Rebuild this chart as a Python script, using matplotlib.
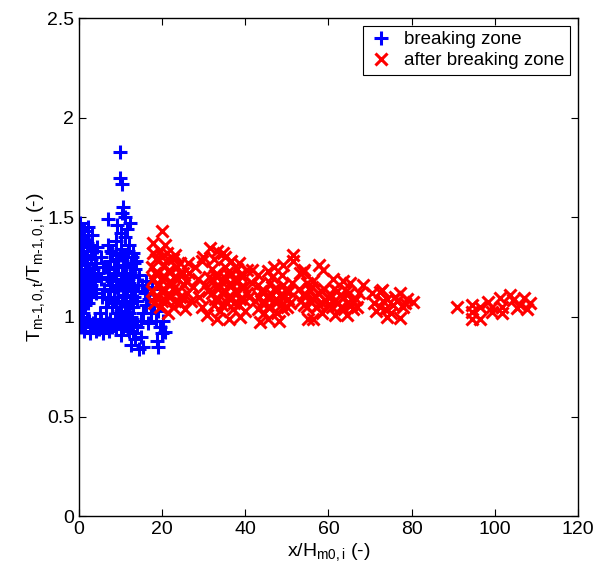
import matplotlib
matplotlib.use("Agg")
import matplotlib.pyplot as plt

plt.rcParams.update({"font.family": "Liberation Sans", "font.size": 14,
    "mathtext.fontset": "custom", "mathtext.rm": "Liberation Sans",
    "mathtext.it": "Liberation Sans", "axes.linewidth": 1.0})

# breaking zone (blue +)
blue_x = [0.2, 0.4, 0.3, 0.5, 0.2, 0.6, 0.3, 0.4, 0.2, 0.5, 0.3, 0.6, 0.2, 0.4, 0.5, 0.3, 0.2, 0.4,
          1.2, 2.2, 3.1, 1.6, 2.7, 3.6, 1.0, 2.0, 3.0, 4.0, 1.4, 2.4, 3.4, 1.1, 2.0, 3.0, 1.6, 2.6,
          3.8, 1.3, 2.2, 3.3, 4.3, 4.6,
          0.9, 1.9, 2.9, 3.9, 0.9, 1.8, 2.8, 3.7, 0.8, 1.7, 2.5, 3.5, 1.0, 2.0, 3.0, 1.4, 0.9, 4.1,
          5.2, 5.8, 5.4, 6.1, 5.6, 6.4, 5.0,
          0.8, 1.5, 2.3, 3.0, 3.8, 4.5, 5.3, 6.0, 6.8, 7.5, 8.3, 9.0, 9.8, 10.5, 11.3, 12.0, 1.2,
          2.7, 4.2, 5.7, 7.1, 8.7, 10.0, 13.0, 12.6,
          0.5, 1.9, 3.4, 4.9, 6.4, 7.9, 9.4, 10.9, 11.7, 12.4,
          7.0, 8.0, 9.0, 10.0, 11.0, 12.0, 13.0, 7.5, 8.5, 9.5, 10.5, 11.5, 12.5, 13.5,
          7.0, 8.0, 9.0, 10.0, 11.0, 12.0, 13.0, 7.5, 8.5, 9.5, 10.5, 11.5, 12.5, 13.5,
          8.0, 9.0, 10.0, 11.0, 12.0, 13.0, 14.0, 6.6, 14.2,
          7.8, 8.8, 9.8, 10.8, 11.8, 12.8, 7.3, 8.3, 9.3, 10.3, 11.3, 12.3, 13.3, 7.8,
          8.8, 9.8, 10.8, 11.8, 12.8, 8.3, 9.3, 10.3, 11.3, 12.3, 13.3, 9.5, 11.5, 7.0,
          7.0, 9.2, 10.3, 10.7, 11.1, 11.6, 10.0, 12.3, 9.9, 9.9, 10.3,
          12.5, 13.5, 14.5, 13.0, 14.0, 15.0, 14.8, 15.5, 16.2, 15.8, 16.8, 17.5, 17.2, 16.5,
          18.0, 18.5, 18.7, 19.1, 19.5, 19.9, 20.3, 19.0, 15.2, 14.5, 16.0, 13.8, 12.8, 15.3,
          20.7, 16.3]
blue_y = [1.47, 1.44, 1.41, 1.38, 1.35, 1.32, 1.29, 1.26, 1.23, 1.20, 1.17, 1.14, 1.11, 1.08, 1.05, 1.00, 0.97, 0.95,
          1.43, 1.45, 1.41, 1.38, 1.36, 1.33, 1.33, 1.31, 1.29, 1.27, 1.27, 1.24, 1.22, 1.21, 1.18, 1.16, 1.14, 1.12,
          1.18, 1.10, 1.07, 1.24, 1.35, 1.22,
          1.40, 1.37, 1.35, 1.30, 1.30, 1.27, 1.22, 1.20, 1.19, 1.20, 1.17, 1.14, 1.14, 1.12, 1.10, 1.06, 1.02, 1.12,
          1.30, 1.25, 1.19, 1.14, 1.10, 1.05, 1.02,
          0.99, 0.96, 0.98, 0.95, 0.99, 0.96, 0.98, 0.95, 0.97, 0.99, 0.96, 0.94, 0.98, 0.95, 0.97, 0.93, 0.93,
          0.92, 0.93, 0.92, 0.93, 0.99, 0.91, 0.96, 1.00,
          0.96, 0.99, 0.97, 0.94, 0.99, 0.95, 0.97, 0.99, 0.95, 0.97,
          1.36, 1.32, 1.38, 1.34, 1.40, 1.36, 1.32, 1.28, 1.25, 1.29, 1.26, 1.30, 1.27, 1.24,
          1.20, 1.18, 1.22, 1.19, 1.21, 1.17, 1.20, 1.13, 1.10, 1.14, 1.11, 1.14, 1.10, 1.13,
          1.05, 1.07, 1.03, 1.06, 1.02, 1.05, 1.08, 1.25, 1.16,
          1.33, 1.29, 1.31, 1.30, 1.33, 1.30, 1.24, 1.21, 1.25, 1.22, 1.25, 1.22, 1.27, 1.16,
          1.15, 1.16, 1.17, 1.19, 1.16, 1.08, 1.10, 1.08, 1.10, 1.07, 1.10, 1.02, 1.02, 1.09,
          1.49, 1.46, 1.52, 1.55, 1.50, 1.44, 1.42, 1.47, 1.83, 1.70, 1.67,
          0.86, 0.89, 0.84, 0.92, 0.95, 0.90, 0.98, 1.02, 1.06, 1.12, 1.09, 1.14, 1.02, 0.97,
          1.06, 0.98, 0.88, 0.85, 0.95, 0.92, 0.98, 1.03, 1.16, 1.21, 1.18, 1.28, 0.99, 0.85,
          0.925, 1.15]

# after breaking zone (red x)
red_x = [19.9, 17.9, 20.7, 17.9, 19.5, 21.1, 22.7, 24.3, 18.5, 20.0,
         17.5, 19.0, 20.5, 22.0, 23.5, 25.0, 17.8, 19.3, 20.8, 22.3, 23.8, 25.3,
         17.5, 19.0, 20.5, 22.0, 23.5, 25.0, 18.0, 19.5, 21.0, 22.5, 24.0, 25.5,
         21.5, 24.3,
         18.3, 19.8, 21.3, 22.8, 24.3, 18.2, 19.7, 21.2, 22.7, 24.2, 18.7, 21.6, 23.0, 20.0,
         25.8, 26.2, 21.5, 23.2,
         26.5, 27.5, 28.5, 29.5, 29.9, 27.0, 28.8, 30.2, 26.0, 30.7, 29.5, 27.8,
         31.5, 33.1, 34.7, 35.1, 32.5, 36.5, 38.5, 40.3, 41.5,
         32.0, 33.5, 35.0, 36.5, 38.0, 39.5, 32.3, 33.8, 35.3, 36.8, 38.3, 39.8,
         32.0, 33.5, 35.0, 36.5, 38.0, 39.5, 32.5, 34.0, 35.5, 37.0, 38.5, 40.0,
         32.7, 34.2, 35.7, 37.2, 38.7, 33.0, 34.5, 36.0, 37.5, 39.0, 32.8, 34.3, 35.8, 37.3,
         38.8, 40.5, 31.0, 31.2,
         33.1, 36.0, 38.8, 41.0, 41.5,
         49.1, 51.5, 51.5, 45.5, 47.0, 43.0,
         43.0, 44.5, 46.0, 47.5, 49.0, 50.5, 43.3, 44.8, 46.3, 47.8, 49.3, 50.8,
         43.0, 44.5, 46.0, 47.5, 49.0, 50.0, 43.5, 45.5, 48.0,
         43.8, 45.3, 46.8, 48.3, 49.8, 44.0, 45.5, 47.0, 48.5, 50.2, 42.3, 51.2, 46.5, 48.8,
         53.1, 54.0, 57.6, 58.8, 53.9, 54.8, 61.2, 63.6, 65.2, 68.4, 56.3,
         53.0, 54.5, 56.0, 57.5, 59.0, 60.5, 62.0, 63.5, 65.0, 66.5,
         53.3, 54.8, 56.3, 57.8, 59.3, 60.8, 62.3, 63.8, 65.3, 66.8,
         53.8, 55.3, 56.8, 58.3, 59.8, 61.3, 62.8, 64.3, 65.8, 54.0, 55.5, 57.0, 58.5, 60.0,
         61.5, 63.0, 64.5, 66.0, 67.3,
         55.1, 56.3, 64.4, 58.5, 61.5,
         70.4, 72.8, 72.4, 77.2, 80.3, 74.0, 77.2, 71.0, 72.5, 74.0, 75.5, 76.5, 78.0, 79.0,
         71.5, 73.5, 75.0, 78.5, 76.0, 73.0,
         90.9, 94.4, 96.4, 94.4, 94.4, 96.4, 98.4, 99.3, 101.3, 101.7, 103.7, 104.4, 101.7,
         99.3, 106.1, 106.9, 108.5, 107.7, 105.3]
red_y = [1.43, 1.37, 1.36, 1.32, 1.33, 1.32, 1.29, 1.27, 1.29, 1.30,
         1.25, 1.22, 1.26, 1.23, 1.25, 1.22, 1.19, 1.16, 1.20, 1.17, 1.19, 1.16,
         1.13, 1.10, 1.14, 1.11, 1.13, 1.10, 1.07, 1.05, 1.08, 1.05, 1.07, 1.04,
         1.02, 1.07,
         1.22, 1.19, 1.23, 1.20, 1.22, 1.10, 1.13, 1.11, 1.14, 1.10, 1.16, 1.17, 1.08, 1.08,
         1.18, 1.27, 1.29, 1.31,
         1.22, 1.15, 1.19, 1.28, 1.30, 1.08, 1.10, 1.16, 1.12, 1.01, 1.05, 1.25,
         1.345, 1.33, 1.32, 1.30, 1.29, 1.28, 1.27, 1.235, 1.235,
         1.24, 1.21, 1.25, 1.22, 1.24, 1.21, 1.18, 1.15, 1.19, 1.16, 1.18, 1.15,
         1.12, 1.09, 1.13, 1.10, 1.12, 1.09, 1.06, 1.03, 1.07, 1.04, 1.06, 1.03,
         1.21, 1.18, 1.22, 1.19, 1.21, 1.15, 1.12, 1.16, 1.13, 1.15, 1.09, 1.06, 1.10, 1.07,
         1.09, 1.12, 1.13, 1.20,
         0.99, 0.99, 1.00, 1.10, 1.17,
         1.26, 1.31, 1.28, 1.23, 1.25, 1.21,
         1.16, 1.13, 1.17, 1.14, 1.16, 1.13, 1.10, 1.07, 1.11, 1.08, 1.10, 1.07,
         1.04, 1.02, 1.05, 1.02, 1.04, 1.05, 0.975, 0.99, 0.98,
         1.13, 1.10, 1.14, 1.11, 1.13, 1.07, 1.05, 1.08, 1.06, 1.09, 1.08, 1.17, 1.20, 1.21,
         1.22, 1.235, 1.26, 1.235, 1.227, 1.17, 1.19, 1.18, 1.17, 1.16, 1.18,
         1.14, 1.11, 1.15, 1.12, 1.14, 1.11, 1.13, 1.10, 1.12, 1.09,
         1.08, 1.05, 1.09, 1.06, 1.08, 1.05, 1.07, 1.04, 1.06, 1.05,
         1.11, 1.14, 1.10, 1.13, 1.10, 1.14, 1.11, 1.13, 1.08, 1.06, 1.08, 1.05, 1.07, 1.06,
         1.08, 1.05, 1.07, 1.04, 1.12,
         0.99, 0.99, 1.01, 1.02, 1.01,
         1.12, 1.135, 1.125, 1.12, 1.075, 1.00, 0.995, 1.07, 1.05, 1.09, 1.06, 1.08, 1.05, 1.09,
         1.03, 1.04, 1.02, 1.07, 1.10, 1.08,
         1.05, 1.059, 1.048, 1.026, 0.992, 0.992, 1.076, 1.048, 1.093, 1.048, 1.109, 1.084, 1.018,
         1.026, 1.059, 1.093, 1.068, 1.038, 1.043]

fig = plt.figure(figsize=(6.03, 5.69), dpi=100)
ax = fig.add_axes([0.131, 0.093, 0.8275, 0.875])

ax.plot(blue_x, blue_y, "+", color="#0000FF", ms=9.5, mew=2.2, label="breaking zone")
ax.plot(red_x, red_y, "x", color="#FF0000", ms=8, mew=2.2, label="after breaking zone")

ax.set_xlim(0, 120); ax.set_ylim(0, 2.5)
ax.set_xticks([0, 20, 40, 60, 80, 100, 120])
ax.set_yticks([0, 0.5, 1, 1.5, 2, 2.5])
ax.set_yticklabels(["0", "0.5", "1", "1.5", "2", "2.5"])
ax.tick_params(direction="in", top=True, right=True, length=5, width=0.8, labelsize=14)
ax.set_xlabel(r"x/H$_{\mathrm{m0,i}}$ (-)", labelpad=2)
ax.set_ylabel(r"T$_{\mathrm{m\text{-}1,0,t}}$/T$_{\mathrm{m\text{-}1,0,i}}$ (-)", labelpad=0)

leg = ax.legend(loc="upper right", fontsize=13.5, fancybox=False, edgecolor="black",
    framealpha=1, borderaxespad=0.4, handletextpad=0.6, handlelength=1.3,
    borderpad=0.3, labelspacing=0.2)
leg.get_frame().set_linewidth(0.8)

fig.savefig("out.png", facecolor="white")
